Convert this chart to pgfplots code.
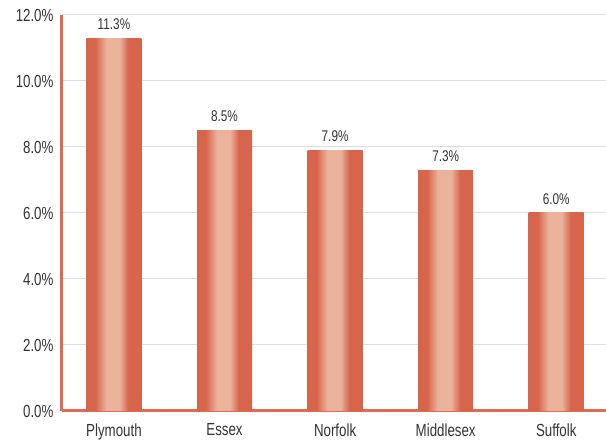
\documentclass[border=0pt]{standalone}
\usepackage{fontspec}
\setmainfont{Liberation Sans}[FakeStretch=0.76]
\usepackage{pgfplots}
\pgfplotsset{compat=1.18}

\definecolor{bard}{HTML}{D6654B}
\definecolor{barlight}{HTML}{EBB39B}
\definecolor{axisred}{HTML}{E0694F}
\definecolor{gridgray}{HTML}{DDDDDD}
\definecolor{txt}{HTML}{333333}

% tikz fits the bar into the middle 25bp..75bp of the shading
\pgfdeclarehorizontalshading{barshade}{100bp}{%
  color(0bp)=(bard); color(33bp)=(bard); color(43bp)=(barlight);
  color(55bp)=(barlight); color(63bp)=(bard); color(100bp)=(bard)}

\pgfplotsset{
  onebar/.style={ybar, bar width=55pt, bar shift=0pt, draw=none, shading=barshade,
    nodes near coords={\pgfmathprintnumber[fixed,fixed zerofill,precision=1]{\pgfplotspointmeta}\%},
    nodes near coords style={font=\fontsize{15.5}{17}\selectfont, text=txt, yshift=5pt}},
}

\begin{document}
\begin{tikzpicture}
  \begin{axis}[
    scale only axis,
    width=544pt, height=396pt,
    xmin=-0.47, xmax=4.45,
    ymin=0, ymax=12,
    axis x line*=bottom, axis y line*=left,
    axis line style={axisred, line width=3pt},
    major tick length=0pt,
    xtick={0,1,2,3,4},
    xticklabels={Plymouth,Essex,Norfolk,Middlesex,Suffolk},
    ytick={0,2,4,6,8,10,12},
    yticklabel={\pgfmathprintnumber[fixed,fixed zerofill,precision=1]{\tick}\%},
    /pgf/number format/assume math mode=true,
    ymajorgrids,
    grid style={gridgray, line width=1pt},
    tick label style={font=\fontsize{17.5}{19}\selectfont, text=txt},
    yticklabel style={xshift=-5pt},
    xticklabel style={yshift=-9pt},
    clip=false,
  ]
    \addplot[onebar] coordinates {(0, 11.3)};
    \addplot[onebar] coordinates {(1, 8.5)};
    \addplot[onebar] coordinates {(2, 7.9)};
    \addplot[onebar] coordinates {(3, 7.3)};
    \addplot[onebar] coordinates {(4, 6.0)};
  \end{axis}
  \pgfresetboundingbox
  \path ([xshift=-62pt,yshift=-31pt]current axis.south west) rectangle ([yshift=15pt]current axis.north east);
\end{tikzpicture}
\end{document}
